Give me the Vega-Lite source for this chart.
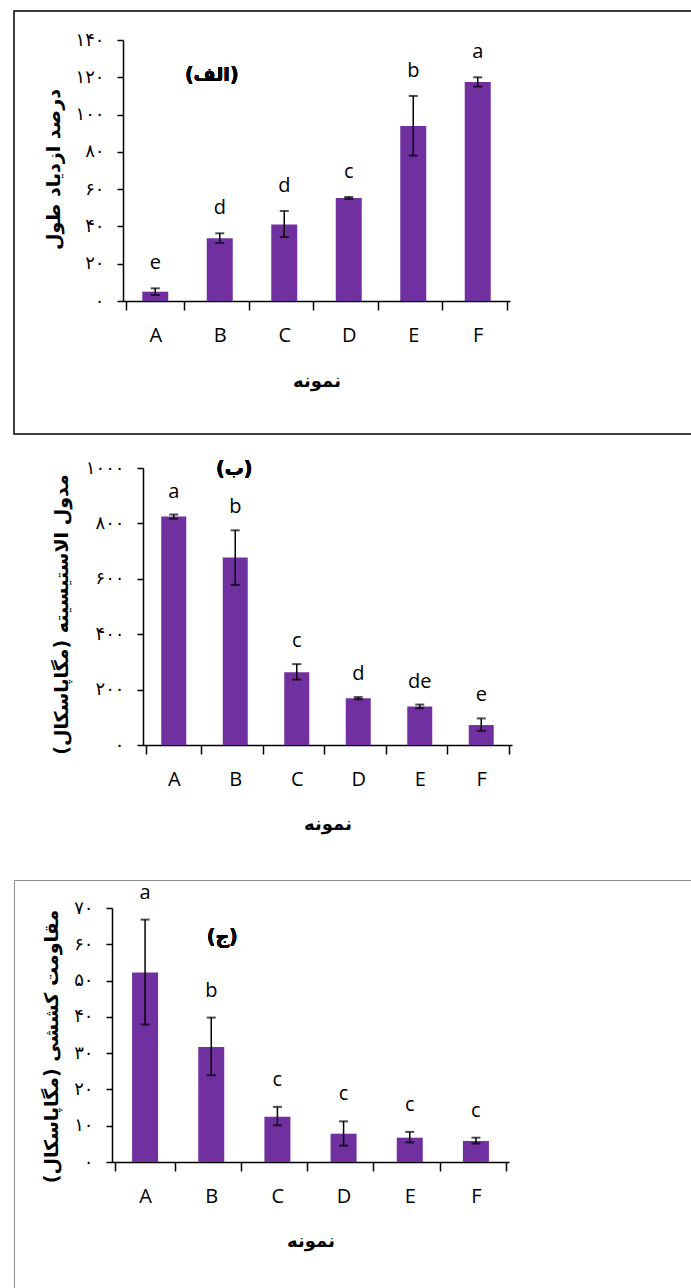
{
  "$schema": "https://vega.github.io/schema/vega-lite/v6.json",
  "padding": {"left": 13, "top": 10, "right": 0, "bottom": 0},
  "background": "white",
  "spacing": 0,
  "bounds": "flush",
  "config": {
    "view": {"stroke": null},
    "font": "Open Sans",
    "axis": {
      "domainColor": "black", "domainWidth": 1.5, "tickColor": "black", "tickWidth": 1.5,
      "grid": false, "labelColor": "black", "titleColor": "black"
    }
  },
  "datasets": {
    "p1": [
      {"sample": "A", "mean": 5, "lo": 3.2, "hi": 6.8, "letter": "e"},
      {"sample": "B", "mean": 33.6, "lo": 31.1, "hi": 36.3, "letter": "d"},
      {"sample": "C", "mean": 41.1, "lo": 34.3, "hi": 48.3, "letter": "d"},
      {"sample": "D", "mean": 55.3, "lo": 54.8, "hi": 55.8, "letter": "c"},
      {"sample": "E", "mean": 93.9, "lo": 78, "hi": 110, "letter": "b"},
      {"sample": "F", "mean": 117.5, "lo": 115, "hi": 120, "letter": "a"}
    ],
    "p2": [
      {"sample": "A", "mean": 825, "lo": 817, "hi": 832, "letter": "a"},
      {"sample": "B", "mean": 677, "lo": 578, "hi": 775, "letter": "b"},
      {"sample": "C", "mean": 263, "lo": 236, "hi": 292, "letter": "c"},
      {"sample": "D", "mean": 169, "lo": 165, "hi": 173, "letter": "d"},
      {"sample": "E", "mean": 139, "lo": 133, "hi": 146, "letter": "de"},
      {"sample": "F", "mean": 72, "lo": 51, "hi": 96, "letter": "e"}
    ],
    "p3": [
      {"sample": "A", "mean": 52.2, "lo": 37.9, "hi": 66.8, "letter": "a"},
      {"sample": "B", "mean": 31.7, "lo": 23.9, "hi": 39.8, "letter": "b"},
      {"sample": "C", "mean": 12.5, "lo": 10.1, "hi": 15.2, "letter": "c"},
      {"sample": "D", "mean": 7.8, "lo": 4.5, "hi": 11.2, "letter": "c"},
      {"sample": "E", "mean": 6.7, "lo": 5.4, "hi": 8.3, "letter": "c"},
      {"sample": "F", "mean": 5.8, "lo": 5.1, "hi": 6.7, "letter": "c"}
    ]
  },
  "vconcat": [
    {
      "width": 700, "height": 423,
      "view": {"stroke": "black", "strokeWidth": 1.5},
      "data": {"name": "p1"},
      "layer": [
        {
          "mark": {"type": "bar", "color": "#7030A0", "size": 26},
          "encoding": {
            "x": {"field": "sample", "type": "nominal", "scale": {"range": [109, 496]},
              "axis": {"orient": "bottom", "offset": -133, "tickBand": "extent", "tickSize": 9, "labelAngle": 0,
                "labelFont": "Open Sans", "labelFontSize": 20, "labelBaseline": "middle", "labelPadding": 25,
                "title": "نمونه", "titleFont": "DejaVu Sans", "titleFontSize": 18, "titleFontWeight": "bold",
                "titleY": 80, "titleBaseline": "middle"}},
            "y": {"field": "mean", "type": "quantitative", "scale": {"domain": [0, 140], "range": [290, 29]},
              "axis": {"orient": "left", "offset": -109, "values": [0, 20, 40, 60, 80, 100, 120, 140], "format": "d",
                "tickSize": 6, "labelPadding": 13, "labelFont": "DejaVu Sans", "labelFontSize": 18,
                "labelExpr": "replace(replace(replace(replace(replace(replace(replace(replace(replace(replace(datum.label, regexp('0','g'), '۰'), regexp('1','g'), '۱'), regexp('2','g'), '۲'), regexp('3','g'), '۳'), regexp('4','g'), '۴'), regexp('5','g'), '۵'), regexp('6','g'), '۶'), regexp('7','g'), '۷'), regexp('8','g'), '۸'), regexp('9','g'), '۹')",
                "title": "درصد ازدیاد طول", "titleFont": "DejaVu Sans", "titleFontSize": 19, "titleFontWeight": "bold",
                "titleX": -70, "titleY": 158, "titleAngle": 270, "titleBaseline": "middle", "titleAlign": "center"}}
          }
        },
        {
          "mark": {"type": "rule", "color": "black", "strokeWidth": 1.5},
          "encoding": {"x": {"field": "sample", "type": "nominal"}, "y": {"field": "lo", "type": "quantitative"}, "y2": {"field": "hi"}}
        },
        {
          "mark": {"type": "tick", "color": "black", "orient": "horizontal", "size": 9, "thickness": 2},
          "encoding": {"x": {"field": "sample", "type": "nominal"}, "y": {"field": "lo", "type": "quantitative"}}
        },
        {
          "mark": {"type": "tick", "color": "black", "orient": "horizontal", "size": 9, "thickness": 2},
          "encoding": {"x": {"field": "sample", "type": "nominal"}, "y": {"field": "hi", "type": "quantitative"}}
        },
        {
          "mark": {"type": "text", "font": "Open Sans", "fontSize": 20, "baseline": "middle", "dy": -25, "color": "black"},
          "encoding": {"x": {"field": "sample", "type": "nominal"}, "y": {"field": "hi", "type": "quantitative"}, "text": {"field": "letter"}}
        },
        {
          "mark": {"type": "text", "font": "DejaVu Sans", "fontSize": 19, "fontWeight": "bold", "baseline": "middle", "dx": -8, "color": "black"},
          "encoding": {"x": {"datum": "B"}, "y": {"datum": 121}, "text": {"value": "(الف)"}}
        }
      ]
    },
    {
      "width": 700, "height": 446,
      "data": {"name": "p2"},
      "layer": [
        {
          "mark": {"type": "bar", "color": "#7030A0", "size": 25},
          "encoding": {
            "x": {"field": "sample", "type": "nominal", "scale": {"range": [129, 498]},
              "axis": {"orient": "bottom", "offset": -135, "tickBand": "extent", "tickSize": 9, "labelAngle": 0,
                "labelFont": "Open Sans", "labelFontSize": 20, "labelBaseline": "middle", "labelPadding": 25,
                "title": "نمونه", "titleFont": "DejaVu Sans", "titleFontSize": 18, "titleFontWeight": "bold",
                "titleY": 79, "titleBaseline": "middle"}},
            "y": {"field": "mean", "type": "quantitative", "scale": {"domain": [0, 1000], "range": [311, 34]},
              "axis": {"orient": "left", "offset": -129, "values": [0, 200, 400, 600, 800, 1000], "format": "d",
                "tickSize": 6, "labelPadding": 13, "labelFont": "DejaVu Sans", "labelFontSize": 18,
                "labelExpr": "replace(replace(replace(replace(replace(replace(replace(replace(replace(replace(datum.label, regexp('0','g'), '۰'), regexp('1','g'), '۱'), regexp('2','g'), '۲'), regexp('3','g'), '۳'), regexp('4','g'), '۴'), regexp('5','g'), '۵'), regexp('6','g'), '۶'), regexp('7','g'), '۷'), regexp('8','g'), '۸'), regexp('9','g'), '۹')",
                "title": "مدول الاستیسیته (مگاپاسکال)", "titleFont": "DejaVu Sans", "titleFontSize": 19, "titleFontWeight": "bold",
                "titleX": -82, "titleY": 180, "titleAngle": 270, "titleBaseline": "middle", "titleAlign": "center"}}
          }
        },
        {
          "mark": {"type": "rule", "color": "black", "strokeWidth": 1.5},
          "encoding": {"x": {"field": "sample", "type": "nominal"}, "y": {"field": "lo", "type": "quantitative"}, "y2": {"field": "hi"}}
        },
        {
          "mark": {"type": "tick", "color": "black", "orient": "horizontal", "size": 9, "thickness": 2},
          "encoding": {"x": {"field": "sample", "type": "nominal"}, "y": {"field": "lo", "type": "quantitative"}}
        },
        {
          "mark": {"type": "tick", "color": "black", "orient": "horizontal", "size": 9, "thickness": 2},
          "encoding": {"x": {"field": "sample", "type": "nominal"}, "y": {"field": "hi", "type": "quantitative"}}
        },
        {
          "mark": {"type": "text", "font": "Open Sans", "fontSize": 20, "baseline": "middle", "dy": -23, "color": "black"},
          "encoding": {"x": {"field": "sample", "type": "nominal"}, "y": {"field": "hi", "type": "quantitative"}, "text": {"field": "letter"}}
        },
        {
          "mark": {"type": "text", "font": "DejaVu Sans", "fontSize": 19, "fontWeight": "bold", "baseline": "middle", "dx": -1, "color": "black"},
          "encoding": {"x": {"datum": "B"}, "y": {"datum": 995}, "text": {"value": "(ب)"}}
        }
      ]
    },
    {
      "width": 700, "height": 420,
      "view": {"stroke": "#8c8c8c", "strokeWidth": 1},
      "data": {"name": "p3"},
      "layer": [
        {
          "mark": {"type": "bar", "color": "#7030A0", "size": 26},
          "encoding": {
            "x": {"field": "sample", "type": "nominal", "scale": {"range": [98, 495]},
              "axis": {"orient": "bottom", "offset": -138, "tickBand": "extent", "tickSize": 9, "labelAngle": 0,
                "labelFont": "Open Sans", "labelFontSize": 20, "labelBaseline": "middle", "labelPadding": 25,
                "title": "نمونه", "titleFont": "DejaVu Sans", "titleFontSize": 18, "titleFontWeight": "bold",
                "titleY": 79, "titleBaseline": "middle"}},
            "y": {"field": "mean", "type": "quantitative", "scale": {"domain": [0, 70], "range": [282, 28]},
              "axis": {"orient": "left", "offset": -98, "values": [0, 10, 20, 30, 40, 50, 60, 70], "format": "d",
                "tickSize": 6, "labelPadding": 13, "labelFont": "DejaVu Sans", "labelFontSize": 18,
                "labelExpr": "replace(replace(replace(replace(replace(replace(replace(replace(replace(replace(datum.label, regexp('0','g'), '۰'), regexp('1','g'), '۱'), regexp('2','g'), '۲'), regexp('3','g'), '۳'), regexp('4','g'), '۴'), regexp('5','g'), '۵'), regexp('6','g'), '۶'), regexp('7','g'), '۷'), regexp('8','g'), '۸'), regexp('9','g'), '۹')",
                "title": "مقاومت کششی (مگاپاسکال)", "titleFont": "DejaVu Sans", "titleFontSize": 19, "titleFontWeight": "bold",
                "titleX": -61, "titleY": 166, "titleAngle": 270, "titleBaseline": "middle", "titleAlign": "center"}}
          }
        },
        {
          "mark": {"type": "rule", "color": "black", "strokeWidth": 1.5},
          "encoding": {"x": {"field": "sample", "type": "nominal"}, "y": {"field": "lo", "type": "quantitative"}, "y2": {"field": "hi"}}
        },
        {
          "mark": {"type": "tick", "color": "black", "orient": "horizontal", "size": 9, "thickness": 2},
          "encoding": {"x": {"field": "sample", "type": "nominal"}, "y": {"field": "lo", "type": "quantitative"}}
        },
        {
          "mark": {"type": "tick", "color": "black", "orient": "horizontal", "size": 9, "thickness": 2},
          "encoding": {"x": {"field": "sample", "type": "nominal"}, "y": {"field": "hi", "type": "quantitative"}}
        },
        {
          "mark": {"type": "text", "font": "Open Sans", "fontSize": 20, "baseline": "middle", "dy": -27, "color": "black"},
          "encoding": {"x": {"field": "sample", "type": "nominal"}, "y": {"field": "hi", "type": "quantitative"}, "text": {"field": "letter"}}
        },
        {
          "mark": {"type": "text", "font": "DejaVu Sans", "fontSize": 19, "fontWeight": "bold", "baseline": "middle", "dx": 11, "color": "black"},
          "encoding": {"x": {"datum": "B"}, "y": {"datum": 62}, "text": {"value": "(ج)"}}
        }
      ]
    }
  ]
}
